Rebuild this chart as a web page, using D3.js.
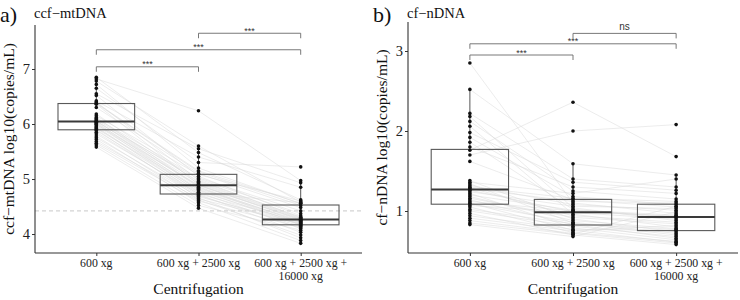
<!DOCTYPE html>
<html>
<head>
<meta charset="utf-8">
<script src="https://cdn.jsdelivr.net/npm/d3@7"></script>
<style>
  body { margin: 0; background: #fff; }
  svg { font-family: "Liberation Serif", "DejaVu Serif", serif; }
</style>
</head>
<body>
<div id="chart"></div>
<script>
// categories
const groups = ["600 xg", "600 xg + 2500 xg", "600 xg + 2500 xg + 16000 xg"];

// ccf-mtDNA, one entry per subject (same order in each array)
const mt600 = [6.85, 6.82, 6.78, 6.72, 6.65, 6.55, 6.52, 6.42, 6.40, 6.38, 6.37, 6.36, 6.30, 6.18, 6.15, 6.12, 6.10, 6.08, 6.06, 6.05,
               6.04, 6.03, 6.01, 6.00, 5.99, 5.97, 5.95, 5.93, 5.92, 5.90, 5.88, 5.85, 5.82, 5.78, 5.75, 5.72, 5.68, 5.65, 5.62, 5.58];
const mt2500 = [5.48, 6.24, 5.60, 5.20, 5.30, 5.55, 5.05, 5.40, 4.98, 5.15, 5.13, 4.90, 5.10, 4.94, 5.08, 4.86, 5.02, 4.96, 4.85, 4.92,
                5.00, 4.80, 4.89, 4.76, 4.88, 4.83, 4.72, 4.81, 4.78, 4.66, 4.75, 4.70, 4.73, 4.62, 4.68, 4.57, 4.64, 4.60, 4.52, 4.47];
const mt16000 = [4.62, 4.97, 4.58, 4.55, 5.22, 4.93, 4.33, 4.85, 4.30, 4.56, 4.52, 4.26, 4.48, 4.29, 4.60, 4.21, 4.42, 4.31, 4.17, 4.28,
                 4.37, 4.16, 4.25, 4.10, 4.27, 4.24, 4.03, 4.23, 4.20, 3.93, 4.57, 4.14, 4.22, 3.98, 4.19, 3.88, 4.18, 4.12, 4.07, 3.83];

// cf-nDNA
const n600 = [2.85, 2.52, 2.22, 2.18, 2.12, 2.06, 1.98, 1.92, 1.86, 1.80, 1.76, 1.70, 1.62, 1.38, 1.36, 1.34, 1.32, 1.30, 1.29, 1.28,
              1.26, 1.24, 1.22, 1.20, 1.18, 1.16, 1.14, 1.12, 1.10, 1.09, 1.07, 1.05, 1.02, 1.00, 0.97, 0.94, 0.91, 0.88, 0.85, 0.83];
const n2500 = [1.10, 1.59, 1.40, 1.04, 1.25, 0.96, 1.36, 1.18, 1.02, 1.30, 2.36, 2.00, 1.14, 0.90, 1.22, 0.85, 1.08, 1.16, 0.94, 1.12,
               0.99, 1.06, 0.79, 1.01, 0.88, 0.92, 0.83, 1.00, 0.76, 0.86, 0.98, 0.73, 0.84, 0.81, 0.70, 0.77, 0.75, 0.72, 0.71, 0.68];
const n16000 = [0.97, 1.45, 1.30, 0.88, 1.15, 0.80, 1.26, 1.08, 0.92, 1.22, 1.68, 2.08, 1.05, 0.74, 1.40, 0.70, 1.01, 1.12, 0.86, 1.10,
                0.94, 1.03, 0.64, 0.95, 0.78, 0.84, 0.66, 0.93, 0.61, 0.72, 0.90, 0.62, 0.77, 0.68, 0.58, 0.76, 0.82, 0.60, 1.06, 0.99];

// y ticks
const mtTicks = [4, 5, 6, 7];
const nTicks = [1, 2, 3];

// significance comparisons: [from, to, label] and bracket heights (data units)
const mtSig = [[0, 1, "***"], [0, 2, "***"], [1, 2, "***"]];
const mtSigY = [7.04, 7.35, 7.65];
const nSig = [[0, 1, "***"], [0, 2, "***"], [1, 2, "ns"]];
const nSigY = [2.95, 3.09, 3.22];

// dashed reference line (ccf-mtDNA)
const mtRefLine = 4.42;

const width = 740, height = 300;
const svg = d3.select("#chart").append("svg")
    .attr("width", width)
    .attr("height", height);

function boxStats(vals) {
    const s = vals.slice().sort(d3.ascending);
    const q1 = d3.quantile(s, 0.25), med = d3.quantile(s, 0.5), q3 = d3.quantile(s, 0.75);
    const iqr = q3 - q1;
    const lo = d3.min(s.filter(v => v >= q1 - 1.5 * iqr));
    const hi = d3.max(s.filter(v => v <= q3 + 1.5 * iqr));
    return { q1, med, q3, lo, hi };
}

function panel(opt) {
    const g = svg.append("g");
    const x = d3.scalePoint().domain(groups).range([opt.left, opt.right]).padding(0.6);
    const y = d3.scaleLinear().domain(opt.yDomain).range([253, opt.top]);
    const bw = x.step() * 0.75;
    const series = opt.series;

    if (opt.ref != null) {
        g.append("line")
            .attr("x1", opt.left).attr("x2", opt.right)
            .attr("y1", y(opt.ref)).attr("y2", y(opt.ref))
            .attr("stroke", "#c8c8c8").attr("stroke-width", 1)
            .attr("stroke-dasharray", "4,3");
    }

    // paired lines
    const line = d3.line().x((d, i) => x(groups[i])).y(d => y(d));
    const subjects = d3.range(series[0].length).map(i => series.map(s => s[i]));
    g.append("g").selectAll("path")
        .data(subjects)
        .enter().append("path")
        .attr("d", line)
        .attr("fill", "none")
        .attr("stroke", "#d8d8d8")
        .attr("stroke-opacity", 0.7)
        .attr("stroke-width", 0.7);

    // boxes
    series.forEach((vals, i) => {
        const st = boxStats(vals);
        const cx = x(groups[i]);
        const bg = g.append("g");
        bg.append("line").attr("x1", cx).attr("x2", cx)
            .attr("y1", y(st.q3)).attr("y2", y(st.hi))
            .attr("stroke", "#555").attr("stroke-width", 1);
        bg.append("line").attr("x1", cx).attr("x2", cx)
            .attr("y1", y(st.q1)).attr("y2", y(st.lo))
            .attr("stroke", "#555").attr("stroke-width", 1);
        bg.append("rect")
            .attr("x", cx - bw / 2).attr("width", bw)
            .attr("y", y(st.q3)).attr("height", y(st.q1) - y(st.q3))
            .attr("fill", "none").attr("stroke", "#595959").attr("stroke-width", 1.1);
        bg.append("line")
            .attr("x1", cx - bw / 2).attr("x2", cx + bw / 2)
            .attr("y1", y(st.med)).attr("y2", y(st.med))
            .attr("stroke", "#3a3a3a").attr("stroke-width", 2);
    });

    // points
    series.forEach((vals, i) => {
        g.append("g").selectAll("circle")
            .data(vals)
            .enter().append("circle")
            .attr("cx", x(groups[i]))
            .attr("cy", d => y(d))
            .attr("r", 1.8)
            .attr("fill", "#111");
    });

    // significance brackets
    opt.sig.forEach((c, k) => {
        const yy = y(opt.sigY[k]);
        const x1 = x(groups[c[0]]), x2 = x(groups[c[1]]);
        g.append("path")
            .attr("d", `M${x1},${yy + 5}V${yy}H${x2}V${yy + 5}`)
            .attr("fill", "none").attr("stroke", "#6a6a6a").attr("stroke-width", 0.9);
        g.append("text")
            .attr("x", (x1 + x2) / 2).attr("y", c[2] === "ns" ? yy - 3 : yy + 0.5)
            .attr("text-anchor", "middle")
            .style("font-family", "'Liberation Sans', Arial, sans-serif")
            .style("font-size", c[2] === "ns" ? "10px" : "9px")
            .attr("fill", "#333")
            .text(c[2]);
    });

    // axes
    const yAxis = g.append("g")
        .attr("transform", `translate(${opt.left},0)`)
        .call(d3.axisLeft(y).tickValues(opt.ticks).tickSize(3).tickFormat(d3.format("d")));
    const xAxis = g.append("g")
        .attr("transform", "translate(0,253)")
        .call(d3.axisBottom(x).tickSize(3).tickFormat(""));
    [yAxis, xAxis].forEach(a => {
        a.select(".domain").attr("stroke", "#333").attr("stroke-width", 1.1);
        a.selectAll(".tick line").attr("stroke", "#333");
    });
    yAxis.selectAll(".tick text")
        .style("font-family", "'Liberation Serif', serif")
        .style("font-size", "14.5px").attr("fill", "#222").attr("x", -5);
    // keep axis spanning the full panel
    yAxis.select(".domain").attr("d", `M0,${opt.top}V253`);
    xAxis.select(".domain").attr("d", `M${opt.left},0H${opt.right}`);

    // category labels (wrapped like the original)
    groups.forEach((name, i) => {
        const lines = i === 2 ? ["600 xg + 2500 xg +", "16000 xg"] : [name];
        const t = g.append("text")
            .attr("text-anchor", "middle")
            .style("font-size", "11.8px").attr("fill", "#222");
        lines.forEach((s, j) => {
            t.append("tspan").attr("x", x(name)).attr("y", 267 + j * 13).text(s);
        });
    });

    g.append("text")
        .attr("x", (opt.left + opt.right) / 2).attr("y", 294)
        .attr("text-anchor", "middle")
        .style("font-size", "15.5px").attr("fill", "#111")
        .text("Centrifugation");

    g.append("text")
        .attr("transform", `translate(${opt.left - 21},${(opt.top + 253) / 2}) rotate(-90)`)
        .attr("text-anchor", "middle")
        .style("font-size", "15.5px").attr("fill", "#111")
        .text(opt.yTitle);

    g.append("text")
        .attr("x", opt.left - 35).attr("y", 22)
        .style("font-size", "22px").attr("fill", "#111")
        .text(opt.tag);
    g.append("text")
        .attr("x", opt.left - 1).attr("y", 18)
        .style("font-size", "14.5px").attr("fill", "#111")
        .text(opt.title);
}

panel({
    left: 35, right: 362, top: 25,
    yDomain: [3.655, 7.8],
    series: [mt600, mt2500, mt16000],
    ticks: mtTicks, sig: mtSig, sigY: mtSigY, ref: mtRefLine,
    yTitle: "ccf\u2212mtDNA log10(copies/mL)",
    tag: "a)", title: "ccf\u2212mtDNA"
});

panel({
    left: 408, right: 738, top: 22,
    yDomain: [0.475, 3.3625],
    series: [n600, n2500, n16000],
    ticks: nTicks, sig: nSig, sigY: nSigY, ref: null,
    yTitle: "cf\u2212nDNA log10(copies/mL)",
    tag: "b)", title: "cf\u2212nDNA"
});
</script>
</body>
</html>
